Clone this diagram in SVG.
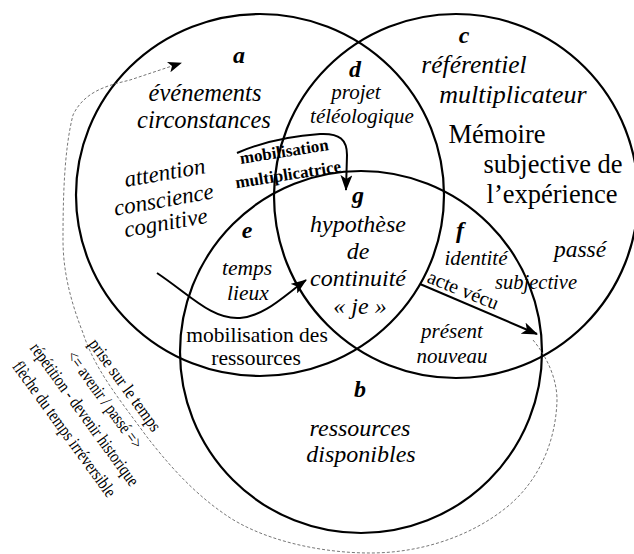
<svg xmlns="http://www.w3.org/2000/svg" width="634" height="554" viewBox="0 0 634 554" font-family="'Liberation Serif', 'Times New Roman', Times, serif">
  <style>
    .ring { fill: none; stroke: #000; stroke-width: 2.2; }
    .arrow { fill: none; stroke: #000; stroke-width: 2; }
    .trace { fill: none; stroke: #666; stroke-width: 0.9; stroke-dasharray: 3 2; }
    text { font-family: 'Liberation Serif', 'Times New Roman', Times, serif; fill: #000; text-anchor: middle; }
    .it { font-style: italic; }
    .key { font-style: italic; font-weight: bold; font-size: 24px; }
    .bd { font-weight: bold; font-size: 17px; }
    .side { font-size: 18px; }
    .lead { text-anchor: start; }
  </style>
  <defs>
    <marker id="head" markerUnits="userSpaceOnUse" markerWidth="16" markerHeight="12" viewBox="0 0 16 12" refX="15" refY="6" orient="auto">
      <path d="M0,0 L16,6 L0,12 L4,6 z" fill="#000"/>
    </marker>
    <marker id="headSmall" markerUnits="userSpaceOnUse" markerWidth="14" markerHeight="11" viewBox="0 0 14 11" refX="13" refY="5.5" orient="auto">
      <path d="M0,0 L14,5.5 L0,11 L3.5,5.5 z" fill="#000"/>
    </marker>
  </defs>

  <!-- three overlapping spheres -->
  <g id="sphere-a"><ellipse class="ring" cx="260" cy="195" rx="184" ry="181"/></g>
  <g id="sphere-c"><circle class="ring" cx="456" cy="196" r="182"/></g>
  <g id="sphere-b"><circle class="ring" cx="361" cy="352" r="181"/></g>

  <!-- connectors -->
  <g id="connectors">
    <path class="trace" d="M533,340 C548,358 557,380 557,400 C556,440 540,480 507,507 C470,537 420,553 370,553 C320,553 260,540 223,513 C190,490 165,460 147,437 C120,400 95,370 83,333 C70,300 63,270 63,240 C63,200 64,150 73,115 C85,90 110,85 130,80 L181,63" marker-end="url(#headSmall)"/>
    <path class="arrow" d="M157,273 C190,295 212,320 240,318 C265,316 285,295 306,280" marker-end="url(#head)"/>
    <path class="arrow" d="M237,153 C260,143 290,136 320,134 C340,133 347,140 347,155 L346,190" marker-end="url(#head)"/>
    <path class="arrow" d="M420,284 L537,334" marker-end="url(#head)"/>
  </g>

  <!-- region a -->
  <g id="node-a">
    <text class="key" x="239" y="63">a</text>
    <text class="it" font-size="24.5" x="205" y="101">événements</text>
    <text class="it" font-size="24.5" x="204" y="128">circonstances</text>
    <text class="it" font-size="23" transform="rotate(-10 166 180)" x="166" y="180">attention</text>
    <text class="it" font-size="23" transform="rotate(-10 165 207)" x="165" y="207">conscience</text>
    <text class="it" font-size="23" transform="rotate(-10 167 230)" x="167" y="230">cognitive</text>
  </g>
  <g id="label-mobilisation">
    <text class="bd" transform="rotate(-9 285 157)" x="285" y="157">mobilisation</text>
    <text class="bd" transform="rotate(-9 289 180)" x="289" y="180">multiplicatrice</text>
  </g>

  <!-- region d -->
  <g id="node-d">
    <text class="key" x="355" y="77">d</text>
    <text class="it" font-size="21" x="356" y="99">projet</text>
    <text class="it" font-size="21" x="362" y="123">téléologique</text>
  </g>

  <!-- region c -->
  <g id="node-c">
    <text class="key" x="464" y="43">c</text>
    <text class="it" font-size="25.5" x="474" y="73">référentiel</text>
    <text class="it" font-size="26" x="513" y="103">multiplicateur</text>
    <text font-size="26.5" x="497" y="143">Mémoire</text>
    <text font-size="26.5" x="553" y="173">subjective de</text>
    <text font-size="26.5" x="552" y="203">l’expérience</text>
  </g>

  <!-- region g -->
  <g id="node-g">
    <text class="key" x="358" y="203">g</text>
    <text class="it" font-size="24" x="358" y="232">hypothèse</text>
    <text class="it" font-size="24" x="358" y="259">de</text>
    <text class="it" font-size="24" x="358" y="286">continuité</text>
    <text class="it" font-size="24" x="360" y="314">« je »</text>
  </g>

  <!-- region e -->
  <g id="node-e">
    <text class="key" x="247" y="238">e</text>
    <text class="it" font-size="21.5" x="247" y="275">temps</text>
    <text class="it" font-size="21.5" x="248" y="300">lieux</text>
    <text font-size="21.5" x="257" y="342">mobilisation des</text>
    <text font-size="21.5" x="256" y="365">ressources</text>
  </g>

  <!-- region f -->
  <g id="node-f">
    <text class="key" x="460" y="238">f</text>
    <text class="it" font-size="21" x="476" y="265">identité</text>
    <text class="it" font-size="20.5" x="536" y="289">subjective</text>
    <text class="it" font-size="23.5" x="580" y="257">passé</text>
    <text class="lead" font-size="20" transform="rotate(22 426 282)" x="426" y="282">acte vécu</text>
    <text class="it" font-size="21" x="452" y="338">présent</text>
    <text class="it" font-size="21" x="452" y="363">nouveau</text>
  </g>

  <!-- region b -->
  <g id="node-b">
    <text class="key" x="360" y="397">b</text>
    <text class="it" font-size="24" x="360" y="436">ressources</text>
    <text class="it" font-size="24" x="361" y="462">disponibles</text>
  </g>

  <!-- time notes along the dashed loop -->
  <g id="time-notes" transform="rotate(54)">
    <text class="side" x="385" y="131" textLength="110" lengthAdjust="spacingAndGlyphs">prise sur le temps</text>
    <text class="side" x="385" y="156" textLength="116" lengthAdjust="spacingAndGlyphs">&lt;= avenir / passé =&gt;</text>
    <text class="side" x="385" y="181" textLength="172" lengthAdjust="spacingAndGlyphs">répétition - devenir historique</text>
    <text class="side" x="385" y="206" textLength="163" lengthAdjust="spacingAndGlyphs">flèche du temps irréversible</text>
  </g>
</svg>
